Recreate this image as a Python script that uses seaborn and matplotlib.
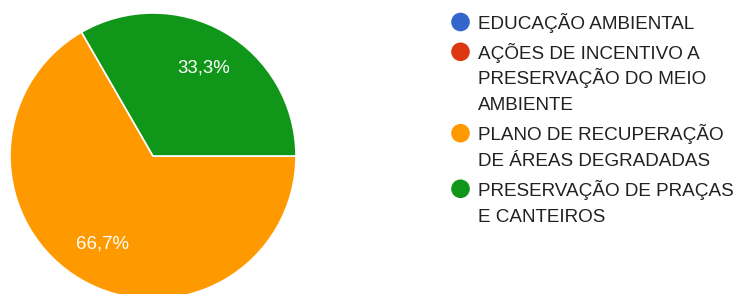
import matplotlib
matplotlib.use("Agg")
import matplotlib.pyplot as plt
import seaborn as sns

# Data
categories = [
    "EDUCAÇÃO AMBIENTAL",
    "AÇÕES DE INCENTIVO A\nPRESERVAÇÃO DO MEIO\nAMBIENTE",
    "PLANO DE RECUPERAÇÃO\nDE ÁREAS DEGRADADAS",
    "PRESERVAÇÃO DE PRAÇAS\nE CANTEIROS",
]
counts = [0, 0, 2, 1]
colors = ["#3366cc", "#dc3912", "#ff9900", "#109618"]

sns.set_theme(style="white")
plt.rcParams["font.family"] = ["Liberation Sans", "DejaVu Sans"]

W, H = 738, 294
fig = plt.figure(figsize=(W / 100, H / 100), dpi=100)

# pie axes: center (153, 156) px, radius 143 px
cx, cy, r = 153, 156, 143
ax = fig.add_axes([(cx - r) / W, (H - cy - r) / H, 2 * r / W, 2 * r / H])


def fmt_pct(p):
    return f"{p:.1f}%".replace(".", ",") if p > 0 else ""


wedges, texts, autotexts = ax.pie(
    counts, colors=sns.color_palette(colors), startangle=120, counterclock=True,
    autopct=fmt_pct, pctdistance=0.71, radius=1,
    wedgeprops=dict(edgecolor="white", linewidth=1.2),
    textprops=dict(color="white", fontsize=13.4),
)
ax.set_xlim(-1, 1)
ax.set_ylim(-1, 1)
ax.axis("off")

# legend drawn in pixel space so that the dot sits on the first line
lax = fig.add_axes([0, 0, 1, 1])
lax.set_xlim(0, W)
lax.set_ylim(H, 0)
lax.axis("off")
lax.patch.set_alpha(0)

y = 22
pitch = 25.8
for label, col in zip(categories, colors):
    lax.scatter([460.5], [y], s=180, color=col, edgecolor="none")
    for i, line in enumerate(label.split("\n")):
        lax.text(478, y + i * pitch + 6.9, line, fontsize=13.6, color="#212121",
                 va="baseline", ha="left")
    y += len(label.split("\n")) * pitch + 4

fig.savefig("out.png", dpi=100)
